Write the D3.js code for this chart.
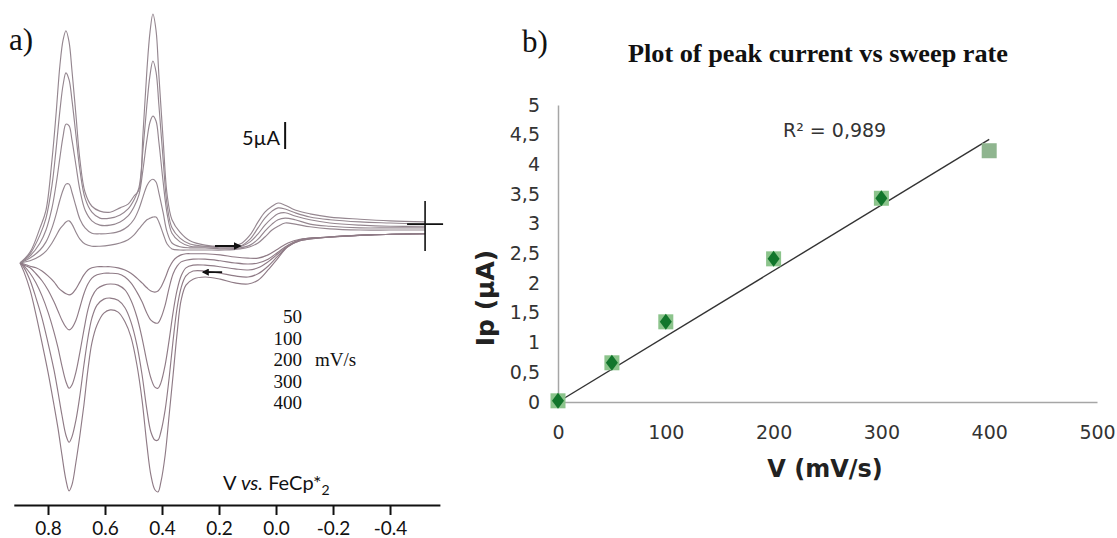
<!DOCTYPE html>
<html>
<head>
<meta charset="utf-8">
<script src="https://cdn.jsdelivr.net/npm/d3@7"></script>
<style>
  html, body { margin: 0; padding: 0; background: #fff; }
  svg { display: block; }
</style>
</head>
<body>
<svg id="chart" width="1117" height="538"></svg>
<script>
// ---------------- Panel a: cyclic voltammograms ----------------
const scanRates = [50, 100, 200, 300, 400];
const scanRateLabels = ["50", "100", "200", "300", "400"];
const cvTickValues = [0.8, 0.6, 0.4, 0.2, 0.0, -0.2, -0.4];

// potential grid (V vs FeCp*2) of the upper (forward) branch
const oxV = [0.898,0.863,0.828,0.807,0.786,0.772,0.758,0.747,0.737,0.726,0.716,0.702,0.688,0.670,0.646,0.618,0.582,0.547,0.519,0.498,0.481,0.467,0.453,0.442,0.432,0.421,0.411,0.396,0.382,0.365,0.337,0.302,0.249,0.179,0.126,0.091,0.063,0.039,0.014,-0.007,-0.032,-0.067,-0.119,-0.189,-0.295,-0.400,-0.523];
// current (µA) of the upper branch
const ox50  = [-2.4,-2.0,-1.1,-0.2,1.3,2.6,3.9,4.6,5.2,5.4,4.8,3.3,2.0,1.1,0.7,0.7,0.9,1.3,1.9,2.8,3.9,4.8,5.6,5.9,6.1,6.1,5.2,3.0,1.1,0.2,0.0,0.0,0.0,0.0,0.2,0.6,1.3,2.4,3.7,4.4,5.0,4.8,4.3,3.9,3.7,3.7,3.7];
const ox100 = [-2.4,-1.5,0.0,1.5,4.1,6.5,9.3,11.1,12.2,12.2,10.7,8.1,5.7,4.1,3.1,3.0,3.1,3.5,4.4,5.7,7.6,9.8,11.9,12.8,13.1,12.6,10.6,6.9,3.3,1.3,0.6,0.4,0.4,0.2,0.4,0.9,2.0,3.5,4.8,5.6,5.9,5.6,4.8,4.4,4.1,4.1,4.1];
const ox200 = [-2.4,-1.1,1.3,3.7,7.8,12.0,17.2,21.1,23.3,23.0,20.4,15.7,11.1,7.4,5.4,4.6,4.6,5.2,6.3,8.0,10.2,14.8,20.4,23.7,24.8,23.9,20.0,12.6,6.7,3.1,1.5,0.7,0.6,0.4,0.6,1.5,3.0,4.6,5.9,6.7,6.9,6.3,5.6,5.0,4.6,4.4,4.4];
const ox300 = [-2.4,-0.7,2.8,5.9,12.0,18.5,25.9,30.6,32.8,31.5,27.8,21.3,14.8,9.6,7.0,5.9,5.9,6.5,7.6,9.3,11.5,18.5,26.9,32.4,35.0,33.0,26.9,16.7,8.3,4.1,2.2,1.1,0.7,0.6,0.7,2.0,4.1,5.9,7.2,7.8,7.6,6.9,6.1,5.6,5.2,5.0,4.8];
const ox400 = [-2.4,-0.4,4.1,7.4,16.7,25.0,34.3,38.9,40.6,38.5,33.3,25.0,16.7,10.7,8.1,7.2,7.0,7.8,8.5,10.0,11.1,21.3,33.3,40.4,43.7,40.7,32.4,20.4,10.2,5.6,3.3,1.7,0.9,0.7,1.1,2.8,5.2,7.0,8.1,8.7,8.3,7.4,6.7,6.1,5.7,5.4,5.2];

// potential grid of the lower (reverse) branch
const redV = [0.898,0.884,0.863,0.842,0.821,0.800,0.779,0.765,0.751,0.737,0.726,0.716,0.702,0.688,0.674,0.660,0.646,0.628,0.604,0.582,0.554,0.530,0.509,0.488,0.470,0.453,0.439,0.425,0.414,0.404,0.389,0.375,0.361,0.347,0.333,0.316,0.291,0.249,0.196,0.144,0.098,0.063,0.028,-0.007,-0.042,-0.084,-0.189,-0.330,-0.523];
// current (µA) of the lower branch
const red50  = [-2.4,-2.6,-3.0,-3.3,-3.9,-4.8,-5.9,-6.9,-7.6,-8.1,-8.3,-8.1,-7.2,-5.9,-4.6,-3.7,-3.3,-3.1,-3.1,-3.1,-3.3,-3.7,-4.3,-5.2,-6.1,-7.0,-7.6,-7.8,-7.6,-6.9,-5.2,-3.3,-2.0,-1.3,-0.9,-0.7,-0.7,-0.7,-0.9,-1.3,-1.5,-1.5,-0.9,0.2,1.3,2.0,2.4,2.8,3.0];
const red100 = [-2.4,-2.8,-3.3,-4.4,-5.7,-7.4,-9.6,-11.3,-13.0,-14.3,-14.8,-14.4,-13.0,-10.6,-8.1,-6.3,-5.2,-4.6,-4.3,-4.3,-4.4,-5.0,-6.1,-7.8,-9.6,-11.7,-13.0,-13.5,-13.5,-12.6,-10.2,-7.0,-4.4,-3.0,-2.2,-1.9,-1.7,-1.7,-2.0,-2.4,-2.6,-2.4,-1.7,-0.4,0.9,1.9,2.4,2.8,3.0];
const red200 = [-2.4,-3.0,-4.3,-6.1,-8.5,-11.5,-15.2,-18.1,-21.5,-24.4,-25.6,-25.0,-22.6,-18.9,-14.8,-11.1,-8.7,-7.2,-6.5,-6.3,-6.5,-7.4,-9.3,-12.4,-16.3,-20.7,-23.7,-25.4,-25.6,-24.6,-21.3,-16.7,-11.5,-7.4,-4.8,-3.3,-2.8,-2.8,-3.1,-3.5,-3.7,-3.3,-2.2,-0.7,0.7,1.7,2.4,2.8,3.0];
const red300 = [-2.4,-3.3,-5.6,-8.9,-12.6,-17.2,-22.2,-26.3,-30.6,-34.3,-35.6,-34.6,-31.5,-26.9,-21.3,-16.3,-12.6,-10.2,-9.1,-8.9,-9.3,-10.7,-13.3,-17.6,-23.1,-29.6,-33.7,-35.2,-35.2,-33.7,-29.6,-23.7,-16.7,-10.7,-7.0,-4.8,-3.9,-3.9,-4.3,-4.8,-5.0,-4.4,-3.0,-1.1,0.6,1.7,2.4,2.8,3.0];
const red400 = [-2.4,-4.1,-7.4,-12.0,-17.2,-22.6,-28.7,-33.0,-38.0,-42.6,-44.6,-43.5,-39.3,-34.3,-28.7,-22.2,-17.2,-13.9,-11.7,-11.1,-11.5,-13.3,-16.1,-21.3,-27.8,-36.1,-41.7,-44.4,-44.8,-43.0,-38.0,-30.6,-23.1,-15.4,-9.3,-6.5,-5.4,-5.0,-5.4,-6.1,-6.3,-5.6,-3.7,-1.5,0.7,1.9,2.4,2.8,3.0];

const oxSeries = [ox50, ox100, ox200, ox300, ox400];
const redSeries = [red50, red100, red200, red300, red400];

// ---------------- Panel b: peak current vs sweep rate ----------------
const sweepRates = [0, 50, 100, 200, 300, 400];
const peakSquares = [0.02, 0.66, 1.35, 2.41, 3.43, 4.23];
const diamondRates = [0, 50, 100, 200, 300];
const peakDiamonds = [0.02, 0.66, 1.35, 2.41, 3.43];
const trendRates = [0, 400];
const trendValues = [0.0, 4.42];
const bXTicks = [0, 100, 200, 300, 400, 500];
const bYTicks = [0, 0.5, 1, 1.5, 2, 2.5, 3, 3.5, 4, 4.5, 5];
const rSquaredLabel = "R² = 0,989";
const titleB = "Plot of peak current vs sweep rate";

// ====================================================================
const svg = d3.select("#chart");

// ---------- Panel a ----------
const xA = d3.scaleLinear().domain([0.92, -0.575]).range([13.8, 439.9]);
const yA = d3.scaleLinear().domain([0, 5]).range([250, 223]);

const cvLine = d3.line()
  .x(d => xA(d[0])).y(d => yA(d[1]))
  .curve(d3.curveCatmullRom.alpha(0.5));

const gA = svg.append("g");
scanRates.forEach((r, k) => {
  const up = oxV.map((v, i) => [v, oxSeries[k][i]]);
  const dn = redV.map((v, i) => [v, redSeries[k][i]]);
  gA.append("path").attr("d", cvLine(up))
    .attr("fill", "none").attr("stroke", "#958790").attr("stroke-width", 1.15);
  gA.append("path").attr("d", cvLine(dn))
    .attr("fill", "none").attr("stroke", "#8f7b86").attr("stroke-width", 1.15);
});

// x axis of panel a
const axA = d3.axisBottom(xA).tickValues(cvTickValues)
  .tickSize(10).tickSizeOuter(0).tickPadding(7)
  .tickFormat(d => d.toFixed(1));
const gAxA = svg.append("g").attr("transform", "translate(0,505)").call(axA);
gAxA.select(".domain").attr("stroke", "#111").attr("stroke-width", 2);
gAxA.selectAll(".tick line").attr("stroke", "#111").attr("stroke-width", 2);
gAxA.selectAll(".tick text").attr("fill", "#111")
  .style("font-family", "Lato, 'Open Sans', sans-serif").style("font-size", "19px");

// crosshair at switching potential
const chX = xA(-0.523), chY = yA(4.8);
svg.append("line").attr("x1", chX - 18).attr("x2", chX + 18).attr("y1", chY).attr("y2", chY)
  .attr("stroke", "#111").attr("stroke-width", 1.6);
svg.append("line").attr("x1", chX).attr("x2", chX).attr("y1", chY - 23).attr("y2", chY + 27)
  .attr("stroke", "#111").attr("stroke-width", 1.6);

// arrows
const defs = svg.append("defs");
defs.append("marker").attr("id", "ah").attr("viewBox", "0 0 10 10")
  .attr("refX", 8).attr("refY", 5).attr("markerWidth", 4).attr("markerHeight", 4)
  .attr("orient", "auto-start-reverse")
  .append("path").attr("d", "M0,0 L10,5 L0,10 z").attr("fill", "#111");
svg.append("line").attr("x1", xA(0.214)).attr("x2", xA(0.126)).attr("y1", yA(0.74)).attr("y2", yA(0.74))
  .attr("stroke", "#111").attr("stroke-width", 2).attr("marker-end", "url(#ah)");
svg.append("line").attr("x1", xA(0.189)).attr("x2", xA(0.256)).attr("y1", yA(-4.1)).attr("y2", yA(-4.1))
  .attr("stroke", "#111").attr("stroke-width", 1.8).attr("marker-end", "url(#ah)");

// scale bar 5 µA
svg.append("line").attr("x1", xA(-0.032)).attr("x2", xA(-0.032))
  .attr("y1", yA(18.7)).attr("y2", yA(23.7)).attr("stroke", "#111").attr("stroke-width", 2);
svg.append("text").attr("x", xA(-0.032) - 5).attr("y", 145).attr("text-anchor", "end")
  .style("font-family", "Lato, sans-serif").style("font-size", "20px").attr("fill", "#111")
  .text("5µA");

// scan-rate legend
scanRateLabels.forEach((t, i) => {
  svg.append("text").attr("x", 302).attr("y", 323 + i * 21.5).attr("text-anchor", "end")
    .style("font-family", "'Liberation Serif', serif").style("font-size", "19px").attr("fill", "#111")
    .text(t);
});
svg.append("text").attr("x", 315).attr("y", 366)
  .style("font-family", "'Liberation Serif', serif").style("font-size", "19px").attr("fill", "#111")
  .text("mV/s");

// axis caption
const cap = svg.append("text").attr("x", 223).attr("y", 490)
  .style("font-family", "Lato, sans-serif").style("font-size", "20px").attr("fill", "#111");
cap.append("tspan").text("V ");
cap.append("tspan").style("font-style", "italic").text("vs.");
cap.append("tspan").text(" FeCp*");
cap.append("tspan").attr("dy", 5).style("font-size", "14px").text("2");

// panel label
svg.append("text").attr("x", 9).attr("y", 50)
  .style("font-family", "'Liberation Serif', serif").style("font-size", "31px").attr("fill", "#111")
  .text("a)");

// ---------- Panel b ----------
const xB = d3.scaleLinear().domain([0, 500]).range([558, 1097]);
const yB = d3.scaleLinear().domain([0, 5]).range([402, 105]);
const comma = d => String(d).replace(".", ",");

const axBx = d3.axisBottom(xB).tickValues(bXTicks).tickSize(0).tickPadding(24).tickFormat(comma);
const gBx = svg.append("g").attr("transform", "translate(0,402)").call(axBx);
gBx.select(".domain").attr("stroke", "#a6a6a6").attr("stroke-width", 1.5);
gBx.selectAll(".tick text").attr("fill", "#333")
  .style("font-family", "'DejaVu Sans', sans-serif").style("font-size", "19px");

const axBy = d3.axisLeft(yB).tickValues(bYTicks).tickSize(0).tickPadding(18).tickFormat(comma);
const gBy = svg.append("g").attr("transform", "translate(558,0)").call(axBy);
gBy.select(".domain").attr("stroke", "#a6a6a6").attr("stroke-width", 1.5);
gBy.selectAll(".tick text").attr("fill", "#333")
  .style("font-family", "'DejaVu Sans', sans-serif").style("font-size", "19px");

// trend line
svg.append("path")
  .attr("d", d3.line().x((d, i) => xB(trendRates[i])).y(d => yB(d))(trendValues))
  .attr("stroke", "#333").attr("stroke-width", 1.4).attr("fill", "none");

// square markers
svg.append("g").selectAll("rect").data(sweepRates).join("rect")
  .attr("x", d => xB(d) - 7.5).attr("y", (d, i) => yB(peakSquares[i]) - 7.5)
  .attr("width", 15).attr("height", 15)
  .attr("fill", (d, i) => i === sweepRates.length - 1 ? "#8fb58f" : "#8cc48c");

// diamond markers
svg.append("g").selectAll("path").data(diamondRates).join("path")
  .attr("transform", (d, i) => `translate(${xB(d)},${yB(peakDiamonds[i])})`)
  .attr("d", "M0,-8 L6,0 L0,8 L-6,0 Z")
  .attr("fill", "#12762c");

// R² label
svg.append("text").attr("x", 783).attr("y", 137)
  .style("font-family", "'DejaVu Sans', sans-serif").style("font-size", "19px").attr("fill", "#333")
  .text(rSquaredLabel);

// title
svg.append("text").attr("x", 628).attr("y", 62)
  .attr("textLength", 380).attr("lengthAdjust", "spacingAndGlyphs")
  .style("font-family", "'Liberation Serif', serif").style("font-weight", "bold").style("font-size", "26px")
  .attr("fill", "#111").text(titleB);

// axis titles
svg.append("text").attr("x", 825).attr("y", 477).attr("text-anchor", "middle")
  .style("font-family", "'DejaVu Sans', sans-serif").style("font-weight", "bold").style("font-size", "24px")
  .attr("fill", "#222").text("V (mV/s)");
svg.append("text").attr("transform", "translate(494,298) rotate(-90)").attr("text-anchor", "middle")
  .style("font-family", "'DejaVu Sans', sans-serif").style("font-weight", "bold").style("font-size", "25px")
  .attr("fill", "#222").text("Ip (µA)");

// panel label
svg.append("text").attr("x", 522).attr("y", 52)
  .style("font-family", "'Liberation Serif', serif").style("font-size", "31px").attr("fill", "#111")
  .text("b)");
</script>
</body>
</html>
